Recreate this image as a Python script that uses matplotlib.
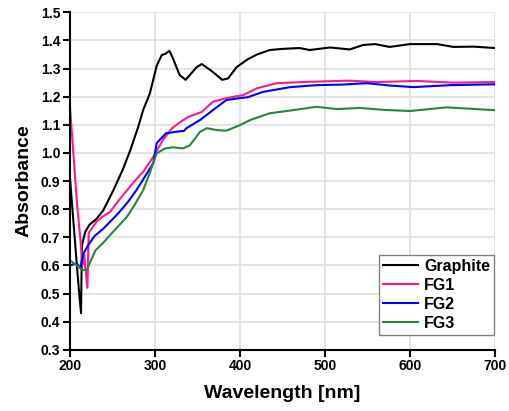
import matplotlib
matplotlib.use("Agg")
import matplotlib.pyplot as plt

# UV-vis absorbance spectra
GRAPHITE_WL = [200, 206, 210, 213, 214, 218, 223, 231, 239, 251, 262, 271, 280,
               286, 294, 302, 308, 312, 317, 321, 329, 336, 343, 349, 355,
               365, 372, 379, 386, 396, 409, 420, 435, 450, 470, 482, 506, 529,
               545, 559, 576, 600, 632, 651, 675, 700]
GRAPHITE_A = [0.91, 0.68, 0.53, 0.43, 0.67, 0.72, 0.745, 0.765, 0.795, 0.867,
              0.94, 1.01, 1.09, 1.152, 1.212, 1.31, 1.348, 1.352, 1.363,
              1.337, 1.277, 1.26, 1.284, 1.305, 1.316, 1.295, 1.278, 1.26, 1.265,
              1.305, 1.333, 1.35, 1.366, 1.370, 1.373, 1.366, 1.375, 1.368, 1.384,
              1.387, 1.377, 1.387, 1.387, 1.377, 1.378, 1.373]

FG1_WL = [200, 208, 215, 216.5, 220.4, 222, 231, 239, 247, 257, 267, 276, 286,
          298, 309, 320, 330, 339, 355, 368, 384, 404, 420, 443, 482, 529, 560,
          608, 650, 700]
FG1_A = [1.164, 0.83, 0.60, 0.64, 0.52, 0.715, 0.755, 0.775, 0.79, 0.83, 0.867,
         0.90, 0.933, 0.986, 1.045, 1.088, 1.11, 1.128, 1.146, 1.182, 1.195,
         1.206, 1.23, 1.248, 1.253, 1.257, 1.252, 1.256, 1.25, 1.252]

FG2_WL = [200, 208, 212, 216, 222, 229, 239, 248, 257, 268, 278, 288, 298, 302,
          313, 329, 334, 337, 353, 368, 384, 400, 409, 427, 459, 490, 520, 549,
          575, 604, 647, 700]
FG2_A = [0.60, 0.607, 0.59, 0.643, 0.675, 0.705, 0.73, 0.758, 0.786, 0.825,
         0.867, 0.915, 0.964, 1.035, 1.07, 1.077, 1.078, 1.088, 1.117, 1.152,
         1.188, 1.195, 1.198, 1.217, 1.234, 1.241, 1.243, 1.248, 1.24, 1.234,
         1.241, 1.244]

FG3_WL = [200, 210, 216, 220, 225, 230, 239, 247, 257, 267, 276, 286, 294, 302,
          312, 321, 333, 341, 353, 361, 373, 384, 400, 412, 435, 462, 490, 514,
          541, 570, 600, 643, 700]
FG3_A = [0.618, 0.595, 0.583, 0.585, 0.62, 0.654, 0.68, 0.707, 0.74, 0.773,
         0.815, 0.867, 0.93, 0.999, 1.016, 1.02, 1.016, 1.027, 1.075, 1.088,
         1.081, 1.079, 1.099, 1.117, 1.141, 1.152, 1.164, 1.156, 1.16, 1.153,
         1.149, 1.162, 1.152]

SERIES = [
    ("Graphite", GRAPHITE_WL, GRAPHITE_A, "#000000"),
    ("FG1", FG1_WL, FG1_A, "#ff1a8c"),
    ("FG2", FG2_WL, FG2_A, "#0000ff"),
    ("FG3", FG3_WL, FG3_A, "#23873c"),
]

X_TICKS = [200, 300, 400, 500, 600, 700]
Y_TICKS = [0.3, 0.4, 0.5, 0.6, 0.7, 0.8, 0.9, 1.0, 1.1, 1.2, 1.3, 1.4, 1.5]

plt.rcParams["font.family"] = ["Liberation Sans", "DejaVu Sans"]
plt.rcParams["font.weight"] = "bold"

fig = plt.figure(figsize=(5.09, 4.11), dpi=100, facecolor="white")
ax = fig.add_axes([0.1375, 0.149, 0.835, 0.821])

for name, wl, a, color in SERIES:
    ax.plot(wl, a, color=color, linewidth=1.5, label=name)

ax.set_xlim(200, 700)
ax.set_ylim(0.3, 1.5)
ax.set_xticks(X_TICKS)
ax.set_yticks(Y_TICKS)
ax.set_yticklabels([f"{v:.1f}" for v in Y_TICKS])
ax.grid(True, color="#e2e2e2", linewidth=1.3)
ax.set_axisbelow(True)

for side in ("top", "right"):
    ax.spines[side].set_visible(False)
for side in ("left", "bottom"):
    ax.spines[side].set_linewidth(1.5)
ax.tick_params(direction="out", length=5, width=1.5, labelsize=10, pad=2)

ax.set_xlabel("Wavelength [nm]", fontsize=14, fontweight="bold", labelpad=8)
ax.set_ylabel("Absorbance", fontsize=14, fontweight="bold", labelpad=6)

leg = ax.legend(loc="lower right", bbox_to_anchor=(0.998, 0.045), fontsize=11.5,
                fancybox=False, framealpha=1, edgecolor="#808080",
                handlelength=2.2, handletextpad=0.4, labelspacing=0.25,
                borderpad=0.25, borderaxespad=0)
leg.get_frame().set_linewidth(1.0)

fig.savefig("out.png", dpi=100, facecolor="white")
